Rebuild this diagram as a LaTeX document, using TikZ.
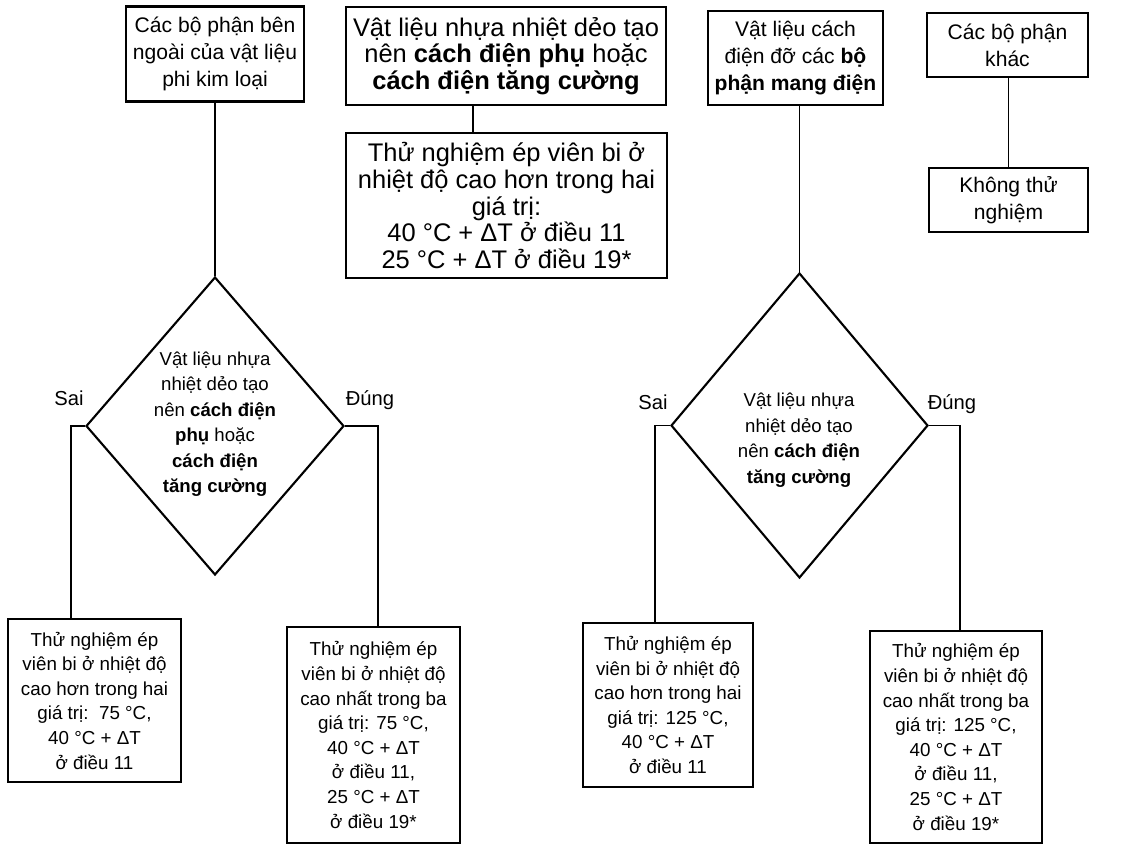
\documentclass[tikz,border=0pt]{standalone}
\usepackage{fontspec}
\setmainfont{Liberation Sans}
\usetikzlibrary{shapes.geometric}
\newcommand{\boxbig}{\fontsize{14.5}{15.2}\selectfont}
\newcommand{\boxmid}{\fontsize{12}{15.4}\selectfont}
\newcommand{\boxsmall}{\fontsize{10.7}{14}\selectfont}
\newcommand{\asktxt}{\fontsize{10.6}{14.5}\selectfont}
\tikzstyle{testbox}=[draw, line width=1.3pt, align=center, inner sep=0pt]
\tikzstyle{question}=[draw, shape=diamond, line width=1.2pt, inner sep=0pt]
\tikzstyle{answer}=[font=\fontsize{11.5}{13}\selectfont]
\tikzstyle{flow}=[line width=1.1pt]

\begin{document}
\begin{tikzpicture}[x=0.02cm, y=-0.02cm]
          \useasboundingbox (0, 0) rectangle (1142, 845);
          \node[testbox, minimum width=3.56cm, minimum height=1.9cm, font=\boxmid] (outer) at (215, 54)
            {Các bộ phận bên\\ngoài của vật liệu\\phi kim loại};
          \node[testbox, minimum width=6.4cm, minimum height=1.96cm, font=\boxbig] (thermo) at (506, 56)
            {Vật liệu nhựa nhiệt dẻo tạo\\nên \textbf{cách điện phụ} hoặc\\\textbf{cách điện tăng cường}};
          \node[testbox, minimum width=6.42cm, minimum height=2.9cm, font=\boxbig] (thermo_test) at (506.5, 205.5)
            {Thử nghiệm ép viên bi ở\\nhiệt độ cao hơn trong hai\\giá trị:\\40 °C + ΔT ở điều 11\\25 °C + ΔT ở điều 19*};
          \node[testbox, minimum width=3.5cm, minimum height=1.88cm, font=\boxmid] (support) at (795.5, 58)
            {Vật liệu cách\\điện đỡ các \textbf{bộ}\\\textbf{phận mang điện}};
          \node[testbox, minimum width=3.22cm, minimum height=1.28cm, font=\boxmid] (other) at (1007.5, 45)
            {Các bộ phận\\khác};
          \node[testbox, minimum width=3.18cm, minimum height=1.28cm, font=\boxmid] (no_test) at (1008.5, 200)
            {Không thử\\nghiệm};

          \node[question, minimum width=5.16cm, minimum height=5.96cm] (ask_outer) at (215, 426) {};
          \node[align=center, font=\asktxt] (ask_outer_txt) at (215, 424)
            {Vật liệu nhựa\\nhiệt dẻo tạo\\nên \textbf{cách điện}\\\textbf{phụ} hoặc\\\textbf{cách điện}\\\textbf{tăng cường}};
          \node[question, minimum width=5.14cm, minimum height=6.1cm] (ask_support) at (799.5, 425.5) {};
          \node[align=center, font=\asktxt] (ask_support_txt) at (799, 440)
            {Vật liệu nhựa\\nhiệt dẻo tạo\\nên \textbf{cách điện}\\\textbf{tăng cường}};

          \node[testbox, minimum width=3.46cm, minimum height=3.26cm, font=\boxsmall] (outer_no) at (94.5, 700.5)
            {Thử nghiệm ép\\viên bi ở nhiệt độ\\cao hơn trong hai\\giá trị:~~75 °C,\\40 °C + ΔT\\ở điều 11};
          \node[testbox, minimum width=3.46cm, minimum height=4.32cm, font=\boxsmall] (outer_yes) at (373.5, 735)
            {Thử nghiệm ép\\viên bi ở nhiệt độ\\cao nhất trong ba\\giá trị: 75 °C,\\40 °C + ΔT\\ở điều 11,\\25 °C + ΔT\\ở điều 19*};
          \node[testbox, minimum width=3.4cm, minimum height=3.28cm, font=\boxsmall] (support_no) at (668, 705)
            {Thử nghiệm ép\\viên bi ở nhiệt độ\\cao hơn trong hai\\giá trị: 125 °C,\\40 °C + ΔT\\ở điều 11};
          \node[testbox, minimum width=3.44cm, minimum height=4.24cm, font=\boxsmall] (support_yes) at (956, 737)
            {Thử nghiệm ép\\viên bi ở nhiệt độ\\cao nhất trong ba\\giá trị: 125 °C,\\40 °C + ΔT\\ở điều 11,\\25 °C + ΔT\\ở điều 19*};

          \coordinate (thermo_link) at (473, 0);
          \coordinate (outer_left) at (71, 0);
          \coordinate (outer_right) at (378, 0);
          \coordinate (support_left) at (655, 0);
          \coordinate (support_right) at (960, 0);

          \node[answer] (outer_sai) at (69, 398) {Sai};
          \node[answer] (outer_dung) at (370, 400) {Đúng};
          \node[answer] (support_sai) at (653, 402) {Sai};
          \node[answer] (support_dung) at (952, 404) {Đúng};

          \draw[flow] (outer.south) -- (ask_outer.north);
          \draw[flow] (thermo.south -| thermo_link) -- (thermo_test.north -| thermo_link);
          \draw[flow] (support.south -| ask_support.north) -- (ask_support.north);
          \draw[flow] (other.south -| no_test.north) -- (no_test.north);
          \draw[flow] (ask_outer.west) -| (outer_no.north -| outer_left);
          \draw[flow] (ask_outer.east) -| (outer_yes.north -| outer_right);
          \draw[flow] (ask_support.west) -| (support_no.north -| support_left);
          \draw[flow] (ask_support.east) -| (support_yes.north -| support_right);
        \end{tikzpicture}
\end{document}
